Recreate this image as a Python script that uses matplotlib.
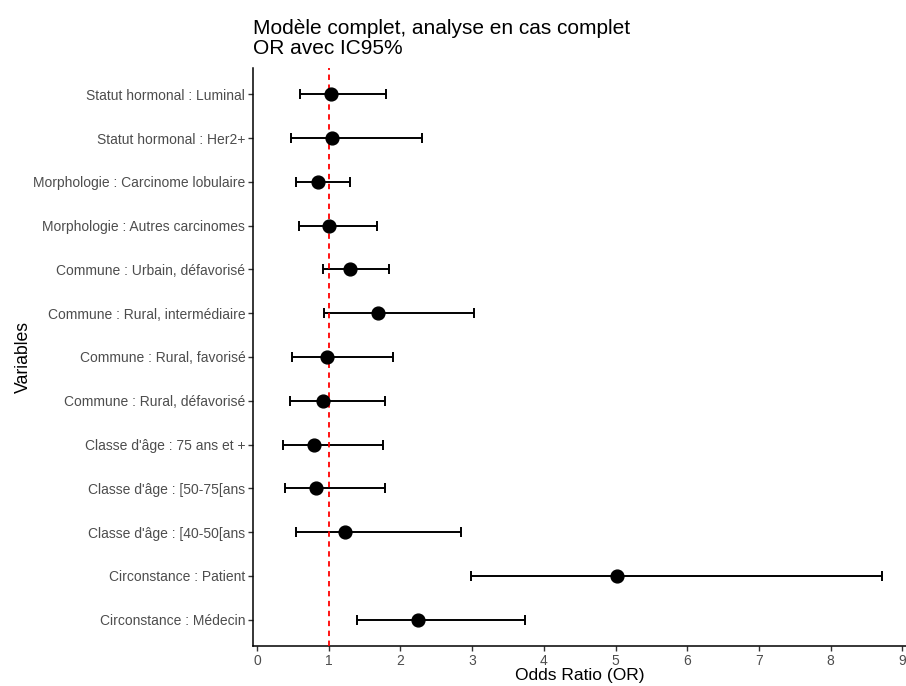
import matplotlib
matplotlib.use("Agg")
import matplotlib.pyplot as plt

plt.rcParams['font.family'] = ['Liberation Sans', 'DejaVu Sans']

# variables, from bottom to top
variables = [
    "Circonstance : Médecin",
    "Circonstance : Patient",
    "Classe d'âge : [40-50[ans",
    "Classe d'âge : [50-75[ans",
    "Classe d'âge : 75 ans et +",
    "Commune : Rural, défavorisé",
    "Commune : Rural, favorisé",
    "Commune : Rural, intermédiaire",
    "Commune : Urbain, défavorisé",
    "Morphologie : Autres carcinomes",
    "Morphologie : Carcinome lobulaire",
    "Statut hormonal : Her2+",
    "Statut hormonal : Luminal",
]
odds_ratio = [2.25, 5.02, 1.23, 0.82, 0.79, 0.92, 0.98, 1.69, 1.30, 1.00, 0.85, 1.04, 1.03]
ic_low = [1.40, 2.98, 0.54, 0.39, 0.36, 0.46, 0.49, 0.94, 0.92, 0.59, 0.54, 0.47, 0.60]
ic_high = [3.74, 8.71, 2.85, 1.78, 1.75, 1.78, 1.89, 3.02, 1.84, 1.68, 1.30, 2.30, 1.80]
x_ticks = [0, 1, 2, 3, 4, 5, 6, 7, 8, 9]

fig = plt.figure(figsize=(9.06, 6.86), dpi=100)
ax = fig.add_axes([253 / 906, 40 / 686, 653 / 906, 578 / 686])

ypos = list(range(len(variables)))
err = [[o - l for o, l in zip(odds_ratio, ic_low)],
       [h - o for o, h in zip(odds_ratio, ic_high)]]
ax.errorbar(odds_ratio, ypos, xerr=err, fmt='none', ecolor='black',
            elinewidth=1.4, capsize=3.5, capthick=1.4, zorder=2)
ax.axvline(1, color='red', linestyle=(0, (3, 2.5)), linewidth=1.3, zorder=3)
ax.scatter(odds_ratio, ypos, s=85, color='black', zorder=4)

ax.set_xlim(-0.056, 9.05)
ax.set_ylim(-0.6, len(variables) - 0.4)
ax.set_yticks(ypos)
ax.set_yticklabels(variables)
ax.set_xticks(x_ticks)

for s in ['top', 'right']:
    ax.spines[s].set_visible(False)
for s in ['left', 'bottom']:
    ax.spines[s].set_linewidth(1.1)
    ax.spines[s].set_color('black')
ax.tick_params(axis='both', colors='#333333', labelcolor='#4D4D4D',
               labelsize=10, length=3.5, width=1.0, pad=2)

ax.set_xlabel("Odds Ratio (OR)", fontsize=12.5, labelpad=0)
ax.set_ylabel("Variables", fontsize=12.7, labelpad=1)
fig.text(253 / 906, 1 - 19 / 686, "Modèle complet, analyse en cas complet\nOR avec IC95%",
         ha='left', va='top', fontsize=15, linespacing=1.1)

fig.savefig("out.png", dpi=100)
